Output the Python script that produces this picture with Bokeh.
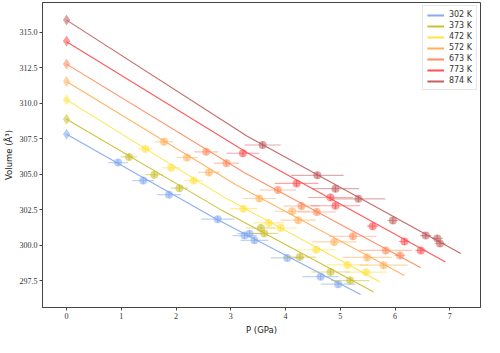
from bokeh.plotting import figure
from bokeh.models import ColumnDataSource, FixedTicker, NumeralTickFormatter, Range1d, Legend, LegendItem
from bokeh.embed import file_html
from bokeh.resources import INLINE

labels = ["302 K", "373 K", "472 K", "572 K", "673 K", "773 K", "874 K"]
colors = ["#7FA6F0", "#C8BE2A", "#FFE23A", "#FFAE55", "#FF8656", "#FF4848", "#C05A5A"]

# measured points: pressure (GPa), pressure error, volume (A^3)
P_302 = [0.0, 0.94, 1.40, 1.87, 2.76, 3.25, 3.34, 3.43, 4.03, 4.64, 4.96]
dP_302 = [0.05, 0.18, 0.20, 0.22, 0.30, 0.22, 0.22, 0.25, 0.30, 0.33, 0.32]
V_302 = [307.83, 305.83, 304.56, 303.57, 301.84, 300.69, 300.82, 300.35, 299.11, 297.79, 297.26]

P_373 = [0.0, 1.14, 1.60, 2.06, 3.55, 3.61, 4.26, 4.82, 5.18]
dP_373 = [0.05, 0.15, 0.16, 0.16, 0.27, 0.25, 0.30, 0.35, 0.35]
V_373 = [308.89, 306.23, 304.98, 304.03, 301.22, 300.84, 299.17, 298.12, 297.52]

P_472 = [0.0, 1.44, 1.91, 2.32, 3.23, 3.69, 3.91, 4.56, 5.13, 5.47]
dP_472 = [0.05, 0.13, 0.17, 0.17, 0.25, 0.28, 0.29, 0.35, 0.38, 0.38]
V_472 = [310.25, 306.79, 305.46, 304.56, 302.58, 301.58, 301.22, 299.69, 298.62, 298.11]

P_572 = [0.0, 1.78, 2.20, 2.60, 3.52, 4.12, 4.23, 4.89, 5.49, 5.79]
dP_572 = [0.05, 0.16, 0.19, 0.20, 0.30, 0.32, 0.32, 0.40, 0.45, 0.44]
V_572 = [311.55, 307.29, 306.19, 305.14, 303.30, 302.40, 301.77, 300.24, 299.15, 298.60]

P_673 = [0.0, 2.55, 2.92, 3.86, 4.29, 4.57, 5.23, 5.83, 6.09]
dP_673 = [0.05, 0.22, 0.23, 0.33, 0.33, 0.35, 0.43, 0.48, 0.10]
V_673 = [312.77, 306.59, 305.79, 303.90, 302.77, 302.35, 300.64, 299.64, 299.29]

P_773 = [0.0, 3.22, 4.20, 4.82, 4.91, 5.59, 6.17, 6.47]
dP_773 = [0.05, 0.30, 0.40, 0.41, 0.45, 0.10, 0.10, 0.10]
V_773 = [314.39, 306.49, 304.36, 303.37, 302.79, 301.35, 300.27, 299.64]

P_874 = [0.0, 3.58, 4.58, 4.91, 5.33, 5.96, 6.56, 6.77, 6.82]
dP_874 = [0.05, 0.33, 0.48, 0.43, 0.49, 0.10, 0.10, 0.10, 0.10]
V_874 = [315.87, 307.07, 304.93, 303.99, 303.28, 301.75, 300.69, 300.49, 300.13]

dV = 0.25

# fitted equation-of-state curves
fitP_302 = [0.0, 2.70, 5.37]
fitV_302 = [307.83, 301.92, 296.54]
fitP_373 = [0.0, 2.80, 5.61]
fitV_373 = [308.89, 302.55, 296.71]
fitP_472 = [0.0, 2.85, 5.72]
fitV_472 = [310.25, 303.45, 297.43]
fitP_572 = [0.0, 3.10, 6.17]
fitV_572 = [311.55, 304.25, 297.87]
fitP_673 = [0.0, 3.25, 6.47]
fitV_673 = [312.77, 305.12, 298.42]
fitP_773 = [0.0, 3.30, 6.92]
fitV_773 = [314.35, 306.52, 298.82]
fitP_874 = [0.0, 3.30, 7.20]
fitV_874 = [315.87, 307.69, 299.42]

x_ticks = [0, 1, 2, 3, 4, 5, 6, 7]
y_ticks = [297.5, 300.0, 302.5, 305.0, 307.5, 310.0, 312.5, 315.0]

series = [
    (P_302, dP_302, V_302, fitP_302, fitV_302),
    (P_373, dP_373, V_373, fitP_373, fitV_373),
    (P_472, dP_472, V_472, fitP_472, fitV_472),
    (P_572, dP_572, V_572, fitP_572, fitV_572),
    (P_673, dP_673, V_673, fitP_673, fitV_673),
    (P_773, dP_773, V_773, fitP_773, fitV_773),
    (P_874, dP_874, V_874, fitP_874, fitV_874),
]

p = figure(width=484, height=337, output_backend="svg", toolbar_location=None,
           x_range=Range1d(-0.44, 7.56), y_range=Range1d(295.62, 317.11),
           min_border_left=20, min_border_right=4, min_border_top=2, min_border_bottom=8)
p.xgrid.visible = False
p.ygrid.visible = False
p.outline_line_color = "#444444"
p.outline_line_width = 1
p.background_fill_color = "white"
p.border_fill_color = "white"

items = []
for (P, dP, V, fP, fV), col, lab in zip(series, colors, labels):
    src = ColumnDataSource(dict(
        x=P[1:], y=V[1:],
        x0=[a - b for a, b in zip(P[1:], dP[1:])], x1=[a + b for a, b in zip(P[1:], dP[1:])],
        y0=[v - dV for v in V[1:]], y1=[v + dV for v in V[1:]]))
    src0 = ColumnDataSource(dict(x=P[:1], y=V[:1]))
    p.line(fP, fV, line_color=col, line_width=1.1, line_alpha=0.9)
    p.segment("x0", "y", "x1", "y", source=src, line_color=col, line_alpha=0.5, line_width=1.2)
    p.segment("x", "y0", "x", "y1", source=src, line_color=col, line_alpha=0.6, line_width=1.2)
    p.scatter("x", "y", source=src, size=8, fill_color=col, fill_alpha=0.55, line_color=None)
    p.scatter("x", "y", source=src0, marker="diamond", size=11, fill_color=col, fill_alpha=0.55, line_color=None)
    lr = p.line(fP[:1], fV[:1], line_color=col, line_width=2, line_alpha=0.95)
    items.append(LegendItem(label=lab, renderers=[lr]))

legend = Legend(items=items, location="top_right")
legend.label_text_font = "DejaVu Sans"
legend.label_text_font_size = "8px"
legend.label_text_color = "#333333"
legend.label_height = 8
legend.glyph_height = 8
legend.glyph_width = 17
legend.spacing = 2
legend.padding = 4
legend.margin = 3
legend.label_standoff = 5
legend.border_line_color = "#cccccc"
legend.background_fill_alpha = 0.9
p.add_layout(legend)

for ax in (p.xaxis[0], p.yaxis[0]):
    ax.major_label_text_font = "Liberation Serif"
    ax.major_label_text_font_size = "8px"
    ax.major_label_text_color = "#333333"
    ax.axis_label_text_font = "DejaVu Sans"
    ax.axis_label_text_font_size = "8.5px"
    ax.axis_label_text_font_style = "normal"
    ax.axis_label_text_color = "#222222"
    ax.axis_line_color = "#444444"
    ax.major_tick_line_color = "#444444"
    ax.major_tick_out = 3
    ax.major_tick_in = 0
    ax.minor_tick_line_color = None
    ax.major_label_standoff = 2
    ax.axis_label_standoff = 3

p.xaxis.ticker = FixedTicker(ticks=x_ticks)
p.yaxis.ticker = FixedTicker(ticks=y_ticks)
p.yaxis.formatter = NumeralTickFormatter(format="0.0")
p.xaxis.axis_label = "P (GPa)"
p.yaxis.axis_label = "Volume (Å³)"

open("out.html", "w").write(file_html(p, INLINE))
